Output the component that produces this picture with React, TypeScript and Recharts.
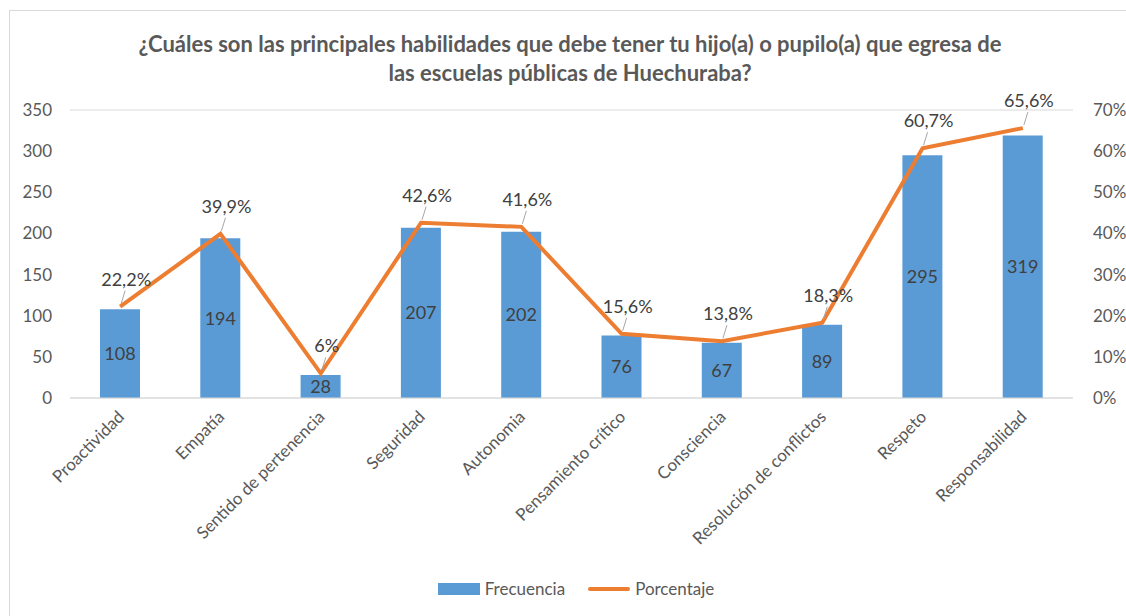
import React from 'react';
import { ComposedChart, Bar, Line, XAxis, YAxis, CartesianGrid, LabelList } from 'recharts';

const CATEGORIES = [
  'Proactividad',
  'Empatía',
  'Sentido de pertenencia',
  'Seguridad',
  'Autonomia',
  'Pensamiento crítico',
  'Consciencia',
  'Resolución de conflictos',
  'Respeto',
  'Responsabilidad',
];
const FRECUENCIA = [108, 194, 28, 207, 202, 76, 67, 89, 295, 319];
const PORCENTAJE = [22.2, 39.9, 6, 42.6, 41.6, 15.6, 13.8, 18.3, 60.7, 65.6];
const LEFT_TICKS = [0, 50, 100, 150, 200, 250, 300, 350];
const RIGHT_TICKS = [0, 10, 20, 30, 40, 50, 60, 70];

const data = CATEGORIES.map((name, i) => ({
  name,
  frecuencia: FRECUENCIA[i],
  porcentaje: PORCENTAJE[i],
}));

const FONT = 'Lato, "Open Sans", sans-serif';
const TEXT = '#595959';
const BLUE = '#5b9bd5';
const ORANGE = '#ed7d31';

const fmtPct = (v: number) => String(v).replace('.', ',') + '%';

const XTick = (props: any) => {
  const { x, y, payload } = props;
  return (
    <text
      x={x + 5}
      y={y + 12}
      textAnchor="end"
      transform={`rotate(-45, ${x + 5}, ${y + 12})`}
      fill={TEXT}
      fontSize={17}
      fontFamily={FONT}
    >
      {payload.value}
    </text>
  );
};

const PctLabel = (props: any) => {
  const { x, y, value } = props;
  if (x == null || y == null) return null;
  return (
    <g>
      <line x1={x + 1} y1={y - 3} x2={x + 5} y2={y - 16} stroke="#a6a6a6" strokeWidth={1} />
      <text
        x={x + 6}
        y={y - 28}
        textAnchor="middle"
        dominantBaseline="central"
        fill="#404040"
        fontSize={18}
        fontFamily={FONT}
      >
        {fmtPct(value)}
      </text>
    </g>
  );
};

export default function App() {
  return (
    <div style={{ position: 'relative', width: 1126, height: 616, overflow: 'hidden', background: '#fff', fontFamily: FONT }}>
      <style>{`html,body{margin:0;padding:0;overflow:hidden}`}</style>
      <div
        style={{
          position: 'absolute',
          left: 9,
          top: 10,
          width: 1200,
          height: 700,
          borderTop: '1px solid #d9d9d9',
          borderLeft: '1px solid #d9d9d9',
        }}
      />
      <div
        style={{
          position: 'absolute',
          left: 20,
          width: 1100,
          top: 29,
          textAlign: 'center',
          color: TEXT,
          fontWeight: 'bold',
          fontSize: 22,
          lineHeight: '29px',
        }}
      >
        ¿Cuáles son las principales habilidades que debe tener tu hijo(a) o pupilo(a) que egresa de
        <br />
        las escuelas públicas de Huechuraba?
      </div>
      <div style={{ position: 'absolute', top: 0, left: 0 }}>
        <ComposedChart
          width={1126}
          height={616}
          data={data}
          margin={{ top: 110, right: 3, left: 10, bottom: 78 }}
        >
          <CartesianGrid vertical={false} stroke="#d9d9d9" />
          <XAxis
            dataKey="name"
            interval={0}
            height={140}
            axisLine={{ stroke: '#d9d9d9' }}
            tickLine={false}
            tick={<XTick />}
          />
          <YAxis
            yAxisId="left"
            domain={[0, 350]}
            ticks={LEFT_TICKS}
            width={60}
            axisLine={false}
            tickLine={false}
            tickSize={0}
            tickMargin={18}
            tick={{ fill: TEXT, fontSize: 17, fontFamily: FONT }}
          />
          <YAxis
            yAxisId="right"
            orientation="right"
            domain={[0, 70]}
            ticks={RIGHT_TICKS}
            width={50}
            axisLine={false}
            tickLine={false}
            tickSize={0}
            tickMargin={20}
            tickFormatter={(v: number) => `${v}%`}
            tick={{ fill: TEXT, fontSize: 17, fontFamily: FONT, textAnchor: 'start' }}
          />
          <Bar yAxisId="left" dataKey="frecuencia" fill={BLUE} barSize={40} isAnimationActive={false}>
            <LabelList
              dataKey="frecuencia"
              position="center"
              fill="#404040"
              fontSize={18}
              fontFamily={FONT}
            />
          </Bar>
          <Line
            yAxisId="right"
            dataKey="porcentaje"
            type="linear"
            stroke={ORANGE}
            strokeWidth={4}
            dot={false}
            activeDot={false}
            isAnimationActive={false}
          >
            <LabelList dataKey="porcentaje" content={<PctLabel />} />
          </Line>
        </ComposedChart>
      </div>
      <div
        style={{
          position: 'absolute',
          top: 578,
          left: 0,
          width: 1152,
          display: 'flex',
          justifyContent: 'center',
          alignItems: 'center',
          color: TEXT,
          fontSize: 17,
        }}
      >
        <span style={{ display: 'inline-block', width: 42, height: 12, background: BLUE, marginRight: 5 }} />
        <span style={{ marginRight: 23 }}>Frecuencia</span>
        <span style={{ display: 'inline-block', width: 42, height: 4, borderRadius: 2, background: ORANGE, marginRight: 5 }} />
        <span>Porcentaje</span>
      </div>
    </div>
  );
}
